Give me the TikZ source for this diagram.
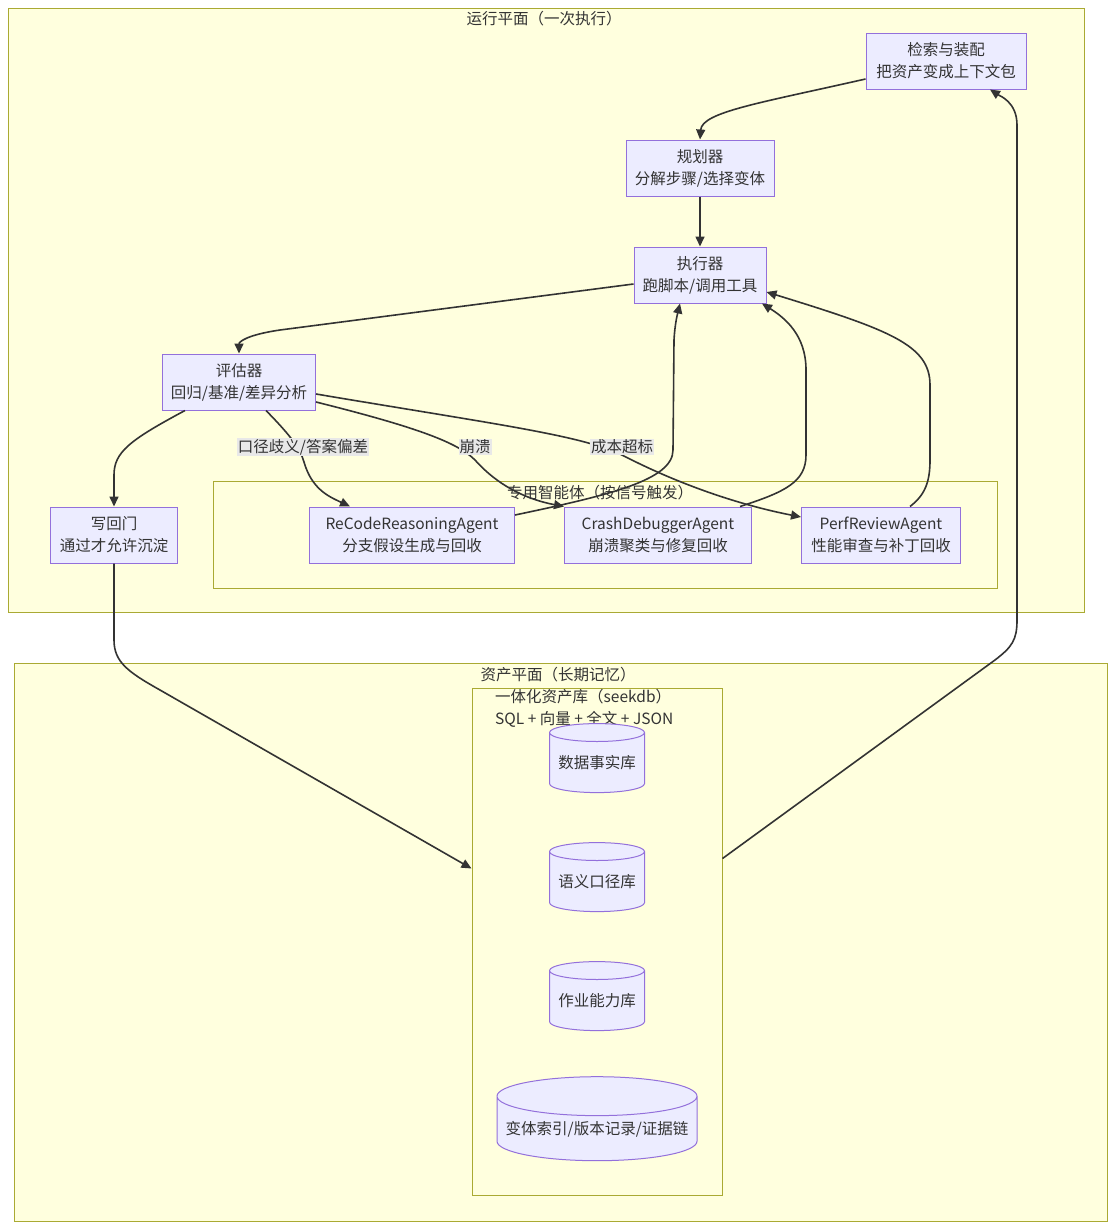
\documentclass[tikz,border=0pt]{standalone}
\usepackage{fontspec}
\setmainfont{Noto Sans CJK SC}
\usetikzlibrary{arrows.meta,shapes.geometric}
\definecolor{clfill}{HTML}{FFFFDE}
\definecolor{cldraw}{HTML}{AAAA33}
\definecolor{boxfill}{HTML}{ECECFF}
\definecolor{boxdraw}{HTML}{9370DB}
\definecolor{ink}{HTML}{333333}
\definecolor{lblfill}{HTML}{E8E8E8}

\tikzset{
  cluster/.style={draw=cldraw,fill=clfill,line width=1pt,inner sep=0pt},
  title/.style={inner sep=0pt,text=ink},
  box/.style={draw=boxdraw,fill=boxfill,line width=1pt,align=center,
    minimum height=56pt,inner xsep=4pt,minimum width=#1,text=ink},
  db/.style={cylinder,shape border rotate=90,aspect=0.2,draw=boxdraw,
    fill=boxfill,line width=1pt,align=center,text=ink,inner xsep=6pt},
  lbl/.style={fill=lblfill,inner sep=1pt,text=ink},
  arr/.style={draw=ink,line width=1.6pt,-{Triangle[length=10pt,width=9pt]}},
}

\begin{document}
\begin{tikzpicture}[x=1pt,y=-1pt,font=\fontsize{15.5pt}{22pt}\selectfont]
    \fill[white] (0,0) rectangle (1115,1229);
    \useasboundingbox (0,0) rectangle (1115,1229);

    % clusters
    \node[cluster,minimum width=1076pt,minimum height=604pt] (run) at (546,310) {};
    \node[title] (runT) at (544,19) {运行平面（一次执行）};
    \node[cluster,minimum width=784pt,minimum height=107pt] (agents) at (605,534.5) {};
    \node[title] (agentsT) at (600,493) {专用智能体（按信号触发）};
    \node[cluster,minimum width=1093pt,minimum height=558pt] (asset) at (560.5,942) {};
    \node[title] (assetT) at (558,675) {资产平面（长期记忆）};
    \node[cluster,minimum width=250pt,minimum height=507pt] (store) at (597,941.5) {};
    \node[title,align=left,anchor=north west] (storeT) at (495,689)
      {一体化资产库（seekdb）\\SQL + 向量 + 全文 + JSON};

    % run plane
    \path
    (946,61) node[box=160pt] (retr) {检索与装配\\把资产变成上下文包}
    (700,168) node[box=148pt] (plan) {规划器\\分解步骤/选择变体}
    (700,275) node[box=132pt] (exec) {执行器\\跑脚本/调用工具}
    (239,382) node[box=153pt] (eval) {评估器\\回归/基准/差异分析}
    (114,535) node[box=127pt] (gate) {写回门\\通过才允许沉淀}
    (412,535) node[box=205pt] (rcode) {ReCodeReasoningAgent\\分支假设生成与回收}
    (658,535) node[box=187pt] (crash) {CrashDebuggerAgent\\崩溃聚类与修复回收}
    (881,535) node[box=159pt] (perf) {PerfReviewAgent\\性能审查与补丁回收}
    ;

    % asset plane
    \path
    (597,765) node[db,minimum height=69pt,minimum width=95pt] (facts) {\raisebox{6pt}{数据事实库}}
    (597,884) node[db,minimum height=69pt,minimum width=95pt] (sem) {\raisebox{6pt}{语义口径库}}
    (597,1003) node[db,minimum height=69pt,minimum width=95pt] (jobs) {\raisebox{6pt}{作业能力库}}
    (597,1132) node[db,minimum height=84pt,minimum width=200pt] (vers) {\raisebox{8pt}{变体索引/版本记录/证据链}}
    ;

    % edges
    \draw[arr] ([yshift=-18pt]retr.west) .. controls (760,103) and (702,112) .. (plan.north);
    \draw[arr] (plan.south) -- (exec.north);
    \draw[arr] ([yshift=-9pt]exec.west) -- (280,330) .. controls (246,335) and (239,342) .. (eval.north);
    \draw[arr] ([xshift=-54pt]eval.south) .. controls (130,440) and (114,452) .. (114,475) -- (gate.north);
    \draw[arr] ([xshift=27pt]eval.south) .. controls (290,435) and (300,448) .. (304,462)
      .. controls (312,490) and (330,497) .. ([xshift=-62pt]rcode.north);
    \draw[arr] ([yshift=-20pt]eval.east) .. controls (420,428) and (458,443) .. (475,460)
      .. controls (500,488) and (530,500) .. (crash.north west);
    \draw[arr] ([yshift=-12pt]eval.east) .. controls (500,425) and (580,435) .. (622,455)
      .. controls (680,485) and (740,505) .. ([yshift=18pt]perf.west);
    \draw[arr] ([yshift=20pt]rcode.east) .. controls (610,495) and (673,480) .. (673,450)
      -- (674,340) .. controls (675,322) and (678,312) .. ([xshift=-20pt]exec.south);
    \draw[arr] ([xshift=82pt]crash.north) .. controls (785,492) and (806,482) .. (806,455)
      -- (806,370) .. controls (806,335) and (785,318) .. ([xshift=62pt]exec.south);
    \draw[arr] ([xshift=29pt]perf.north) .. controls (925,495) and (930,482) .. (930,460)
      -- (930,385) .. controls (930,345) and (890,330) .. ([yshift=-17pt]exec.east);
    \draw[arr] (gate.south) -- (114,640) .. controls (114,662) and (128,672) .. (160,690)
      -- ([yshift=73pt]store.west);
    \draw[arr] ([yshift=83pt]store.east) -- (995,660) .. controls (1012,647) and (1017,640) .. (1017,620)
      -- (1017,125) .. controls (1017,102) and (1000,96) .. ([xshift=44pt]retr.south);

    % edge labels
    \node[lbl] (lMeas) at (303,447) {口径歧义/答案偏差};
    \node[lbl] (lCrash) at (475,447) {崩溃};
    \node[lbl] (lCost) at (622,447) {成本超标};
  \end{tikzpicture}
\end{document}
